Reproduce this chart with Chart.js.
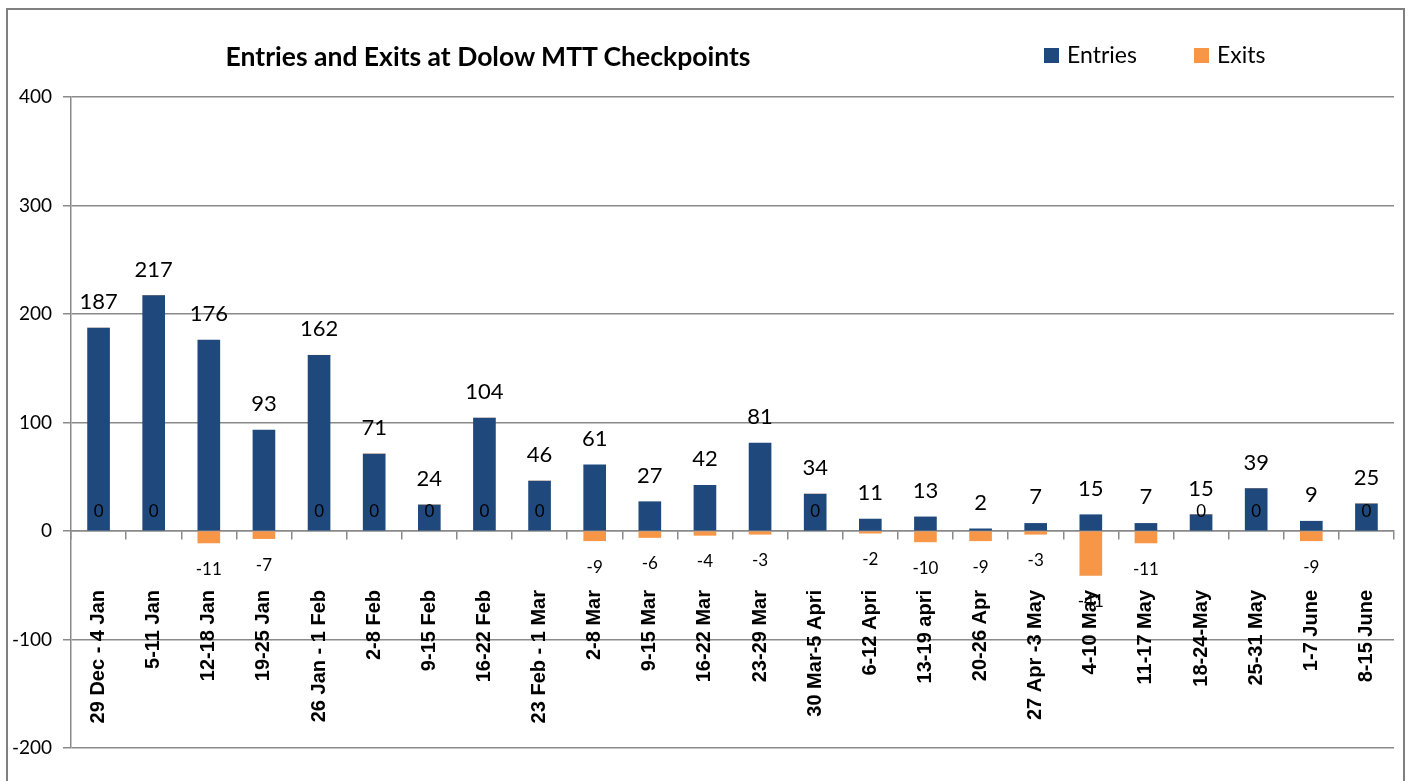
<!DOCTYPE html>
<html>
<head>
<meta charset="utf-8">
<script src="https://cdn.jsdelivr.net/npm/chart.js@4/dist/chart.umd.min.js"></script>
<style>
  body { margin: 0; background: #fff; }
  #wrap { position: relative; width: 1409px; height: 781px; overflow: hidden; }
  #frame { position: absolute; left: 6px; top: 8px; width: 1395px; height: 790px; border: 2px solid #808080; }
  #title { position: absolute; left: 138px; top: 40px; width: 700px; text-align: center;
           font: bold 26.5px Lato, sans-serif; color: #000; }
  #legend { position: absolute; left: 1044px; top: 40px; font: 23px Lato, sans-serif; color: #000; }
  #legend span.item { position: absolute; top: 0; white-space: nowrap; }
  #legend i { display: inline-block; width: 15px; height: 15px; margin-right: 8px; vertical-align: 0px; }
  canvas { position: absolute; left: 0; top: 0; }
</style>
</head>
<body>
<div id="wrap">
  <div id="frame"></div>
  <canvas id="chart" width="1409" height="781"></canvas>
  <div id="title">Entries and Exits at Dolow MTT Checkpoints</div>
  <div id="legend"></div>
</div>
<script>
const weeks = ['29 Dec - 4 Jan', '5-11 Jan', '12-18 Jan', '19-25 Jan', '26 Jan - 1 Feb', '2-8 Feb',
  '9-15 Feb', '16-22 Feb', '23 Feb - 1 Mar', '2-8 Mar', '9-15 Mar', '16-22 Mar', '23-29 Mar',
  '30 Mar-5 Apri', '6-12 Apri', '13-19 apri', '20-26 Apr', '27 Apr -3 May', '4-10 May',
  '11-17 May', '18-24-May', '25-31 May', '1-7 June', '8-15 June'];
const entries = [187, 217, 176, 93, 162, 71, 24, 104, 46, 61, 27, 42, 81, 34, 11, 13, 2, 7, 15, 7, 15, 39, 9, 25];
const exits = [0, 0, -11, -7, 0, 0, 0, 0, 0, -9, -6, -4, -3, 0, -2, -10, -9, -3, -41, -11, 0, 0, -9, 0];
const yTicks = [-200, -100, 0, 100, 200, 300, 400];

const entriesColor = '#1f497d';
const exitsColor = '#f79646';
const gridColor = '#8a8a8a';

// value labels drawn next to each bar end
const barLabels = {
  id: 'barLabels',
  afterDatasetsDraw(chart) {
    const ctx = chart.ctx;
    const yScale = chart.scales.y;
    ctx.save();
    ctx.fillStyle = '#000';
    ctx.textAlign = 'center';
    chart.data.datasets.forEach((ds, i) => {
      const meta = chart.getDatasetMeta(i);
      meta.data.forEach((bar, j) => {
        const v = ds.data[j];
        const y = yScale.getPixelForValue(v);
        if (i === 0) {
          ctx.font = '22px Lato, sans-serif';
          ctx.textBaseline = 'alphabetic';
          ctx.fillText(v, bar.x, y - 19);
        } else if (v < 0) {
          ctx.font = '17px Lato, sans-serif';
          ctx.textBaseline = 'top';
          ctx.fillText(v, bar.x, y + 18);
        } else {
          ctx.font = '17px Lato, sans-serif';
          ctx.textBaseline = 'alphabetic';
          ctx.fillText(v, bar.x, y - 14);
        }
      });
    });
    ctx.restore();
  }
};

const chart = new Chart(document.getElementById('chart'), {
  type: 'bar',
  data: {
    labels: weeks,
    datasets: [
      { label: 'Entries', data: entries, backgroundColor: entriesColor, barThickness: 22 },
      { label: 'Exits', data: exits, backgroundColor: exitsColor, barThickness: 22 }
    ]
  },
  options: {
    responsive: false,
    animation: false,
    layout: { padding: { top: 97, right: 15, bottom: 33, left: 0 } },
    plugins: {
      legend: { display: false },
      title: { display: false },
      tooltip: { enabled: false }
    },
    scales: {
      x: {
        stacked: true,
        position: { y: 0 },
        afterFit(scale) {
          scale.height = 1;
          scale.paddingLeft = 0;
          scale.paddingRight = 0;
        },
        grid: { drawOnChartArea: false, offset: true, color: gridColor, lineWidth: 1.5, tickLength: 8 },
        border: { color: gridColor, width: 1.5 },
        ticks: {
          minRotation: 90, maxRotation: 90, autoSkip: false, padding: 51,
          color: '#000', font: { family: 'Liberation Sans', weight: 'bold', size: 20 }
        }
      },
      y: {
        stacked: true,
        min: -200, max: 400,
        afterFit(scale) { scale.width = 71; },
        afterBuildTicks(scale) { scale.ticks = yTicks.map(v => ({ value: v })); },
        grid: { color: gridColor, lineWidth: 1.5, tickLength: 8 },
        border: { color: gridColor, width: 1.5 },
        ticks: { padding: 11, color: '#000', font: { family: 'Lato', size: 19 } }
      }
    }
  },
  plugins: [barLabels]
});

// legend built from the datasets
const legend = document.getElementById('legend');
const legendX = [0, 150];
chart.data.datasets.forEach((ds, i) => {
  const item = document.createElement('span');
  item.className = 'item';
  item.style.left = legendX[i] + 'px';
  item.innerHTML = '<i style="background:' + ds.backgroundColor + '"></i>' + ds.label;
  legend.appendChild(item);
});
</script>
</body>
</html>
